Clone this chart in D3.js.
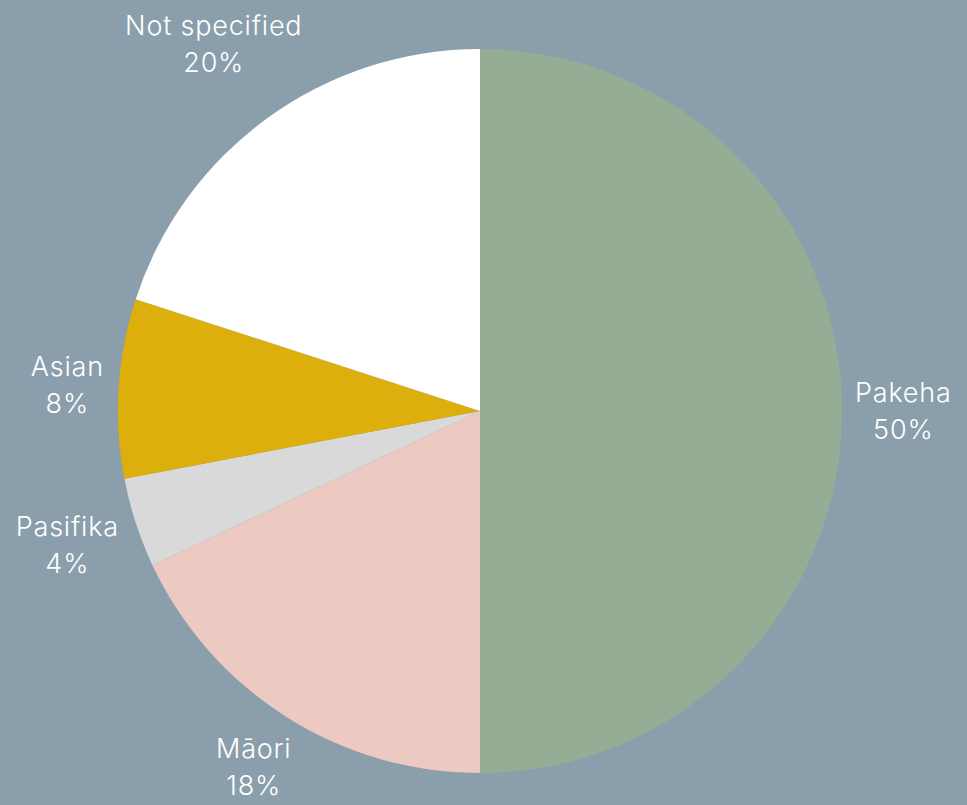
<!DOCTYPE html>
<html>
<head>
<meta charset="utf-8">
<script src="https://cdn.jsdelivr.net/npm/d3@7"></script>
<style>
  html, body { margin: 0; padding: 0; background: #8a9fab; }
  #chart { width: 967px; height: 805px; }
  text { font-family: Inter, "Noto Sans", sans-serif; fill: #fff; font-weight: 300; }
</style>
</head>
<body>
<div id="chart"></div>
<script>
const categories = ["Pakeha", "Māori", "Pasifika", "Asian", "Not specified"];
const values = [50, 18, 4, 8, 20];
const sliceColors = ["#95ad95", "#ecc9c1", "#d9d9d9", "#dcaf0c", "#ffffff"];

const width = 967,
  height = 805;
const cx = 480,
  cy = 411,
  radius = 362;

const data = categories.map((c, i) => ({ name: c, value: values[i] }));
const total = d3.sum(values);

const svg = d3
  .select("#chart")
  .append("svg")
  .attr("width", width)
  .attr("height", height);

const g = svg.append("g").attr("transform", `translate(${cx},${cy})`);

const pie = d3
  .pie()
  .sort(null)
  .value((d) => d.value);
const arc = d3.arc().innerRadius(0).outerRadius(radius);
const color = d3.scaleOrdinal(categories, sliceColors);

const arcs = pie(data);

g.selectAll("path")
  .data(arcs)
  .join("path")
  .attr("d", arc)
  .attr("fill", (d) => color(d.data.name));

// labels sit outside the pie, pushed out along the mid angle until the box clears the edge
const fontSize = 27,
  lineGap = 37,
  offset = 13;

const labels = g
  .selectAll("g.label")
  .data(arcs)
  .join("g")
  .attr("class", "label");

labels.each(function (d) {
  const lg = d3.select(this);
  lg.append("text")
    .attr("text-anchor", "middle")
    .attr("font-size", fontSize)
    .attr("letter-spacing", 0.8)
    .attr("y", -lineGap / 2 + 9)
    .text(d.data.name);
  lg.append("text")
    .attr("text-anchor", "middle")
    .attr("font-size", fontSize)
    .attr("letter-spacing", 0.8)
    .attr("y", lineGap / 2 + 9)
    .text(Math.round((d.data.value / total) * 100) + "%");

  const box = this.getBBox();
  const mid = (d.startAngle + d.endAngle) / 2;
  const ux = Math.sin(mid),
    uy = -Math.cos(mid);
  const hw = box.width / 2,
    hh = 32;
  const dist = radius + offset + Math.abs(ux) * hw + Math.abs(uy) * hh;
  lg.attr("transform", `translate(${ux * dist},${uy * dist})`);
});
</script>
</body>
</html>
